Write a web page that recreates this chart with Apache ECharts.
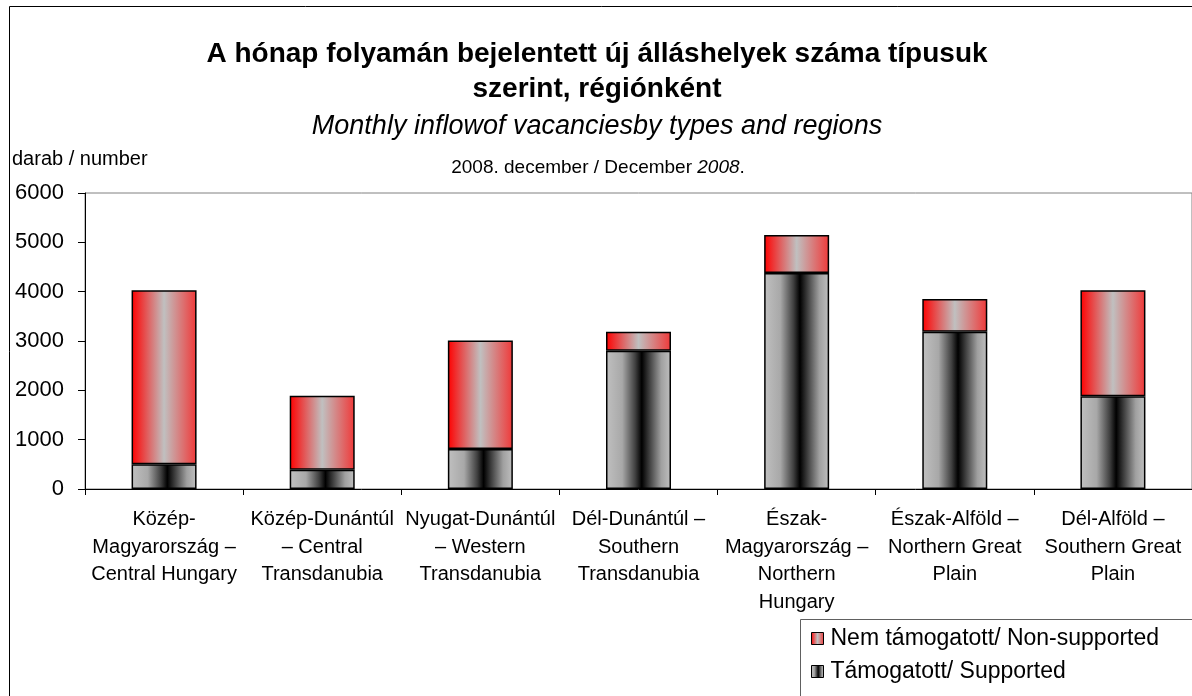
<!DOCTYPE html>
<html>
<head>
<meta charset="utf-8">
<title>Új álláshelyek régiónként</title>
<script src="https://cdn.jsdelivr.net/npm/echarts@6/dist/echarts.min.js"></script>
<style>
  html, body { margin: 0; padding: 0; background: #fff; }
  #main { width: 1192px; height: 696px; }
</style>
</head>
<body>
<div id="main"></div>
<script>
// régiók / regions
var regions = [
  'Közép-\nMagyarország –\nCentral Hungary',
  'Közép-Dunántúl\n– Central\nTransdanubia',
  'Nyugat-Dunántúl\n– Western\nTransdanubia',
  'Dél-Dunántúl –\nSouthern\nTransdanubia',
  'Észak-\nMagyarország –\nNorthern\nHungary',
  'Észak-Alföld –\nNorthern Great\nPlain',
  'Dél-Alföld –\nSouthern Great\nPlain'
]
// támogatott / supported
var supported = [500, 390, 810, 2800, 4380, 3190, 1880]
// nem támogatott / non-supported
var nonSupported = [3530, 1500, 2200, 390, 770, 660, 2150]
var yTicks = [0, 1000, 2000, 3000, 4000, 5000, 6000]

var FONT = '"Liberation Sans", Arial, sans-serif'

var redGrad = new echarts.graphic.LinearGradient(0, 0, 1, 0, [
  {offset: 0, color: '#ff0000'},
  {offset: 0.5, color: '#c0c0c0'},
  {offset: 1, color: '#f03838'}
])
var blackGrad = new echarts.graphic.LinearGradient(0, 0, 1, 0, [
  {offset: 0, color: '#c0c0c0'},
  {offset: 0.25, color: '#a8a8a8'},
  {offset: 0.45, color: '#404040'},
  {offset: 0.55, color: '#000000'},
  {offset: 0.7, color: '#505050'},
  {offset: 0.85, color: '#a0a0a0'},
  {offset: 1, color: '#c0c0c0'}
])

var chart = echarts.init(document.getElementById('main'))
var option = {
  backgroundColor: '#fff',
  animation: false,
  textStyle: {fontFamily: FONT, color: '#000'},
  graphic: [
    // külső keret
    {
      type: 'rect',
      shape: {x: 9.5, y: 6.5, width: 1200, height: 700},
      style: {fill: 'none', stroke: '#000', lineWidth: 1},
      silent: true
    },
    // jelmagyarázat keret
    {
      type: 'rect',
      shape: {x: 800.5, y: 619.5, width: 500, height: 200},
      style: {fill: '#fff', stroke: '#606060', lineWidth: 1},
      silent: true,
      z: -1
    },
    {
      type: 'text',
      x: 597,
      y: 72,
      style: {
        text: 'A hónap folyamán bejelentett új álláshelyek száma típusuk\nszerint, régiónként',
        align: 'center',
        verticalAlign: 'middle',
        fontFamily: FONT,
        fontSize: 28,
        fontWeight: 'bold',
        lineHeight: 35,
        fill: '#000'
      }
    },
    {
      type: 'text',
      x: 597,
      y: 126,
      style: {
        text: 'Monthly inflowof vacanciesby types and regions',
        align: 'center',
        verticalAlign: 'middle',
        fontFamily: FONT,
        fontSize: 27,
        fontStyle: 'italic',
        fill: '#000'
      }
    },
    {
      type: 'text',
      x: 598,
      y: 168,
      style: {
        text: '2008. december / December {i|2008}.',
        align: 'center',
        verticalAlign: 'middle',
        fontFamily: FONT,
        fontSize: 19,
        fill: '#000',
        rich: {i: {fontFamily: FONT, fontSize: 19, fontStyle: 'italic', fill: '#000'}}
      }
    },
    {
      type: 'text',
      x: 12,
      y: 159,
      style: {
        text: 'darab / number',
        align: 'left',
        verticalAlign: 'middle',
        fontFamily: FONT,
        fontSize: 20,
        fill: '#000'
      }
    }
  ],
  legend: {
    orient: 'vertical',
    left: 801,
    top: 619,
    data: ['Nem támogatott/ Non-supported', 'Támogatott/ Supported'],
    itemWidth: 12,
    itemHeight: 12,
    itemGap: 10,
    icon: 'rect',
    padding: [8, 10, 0, 10],
    itemStyle: {borderColor: '#000', borderWidth: 1},
    textStyle: {fontFamily: FONT, fontSize: 23, color: '#000', padding: [0, 0, 0, 2]}
  },
  grid: {
    left: 85,
    top: 193,
    width: 1111,
    height: 296,
    show: true,
    borderColor: '#808080',
    borderWidth: 1
  },
  xAxis: {
    type: 'category',
    data: regions,
    axisLine: {lineStyle: {color: '#000', width: 1}},
    axisTick: {show: true, length: 6, lineStyle: {color: '#000'}},
    axisLabel: {
      interval: 0,
      margin: 17,
      fontFamily: FONT,
      fontSize: 20,
      lineHeight: 27.5,
      color: '#000'
    }
  },
  yAxis: {
    type: 'value',
    min: yTicks[0],
    max: yTicks[yTicks.length - 1],
    interval: 1000,
    splitLine: {show: false},
    axisLine: {show: true, lineStyle: {color: '#000', width: 1}},
    axisTick: {show: true, length: 7, lineStyle: {color: '#000'}},
    axisLabel: {
      margin: 21,
      fontFamily: FONT,
      fontSize: 22,
      color: '#000',
      formatter: function (v) { return String(v) }
    }
  },
  series: [
    {
      name: 'Támogatott/ Supported',
      type: 'bar',
      stack: 'total',
      barWidth: 65,
      data: supported,
      itemStyle: {color: blackGrad, borderColor: '#000', borderWidth: 1.5}
    },
    {
      name: 'Nem támogatott/ Non-supported',
      type: 'bar',
      stack: 'total',
      barWidth: 65,
      data: nonSupported,
      itemStyle: {color: redGrad, borderColor: '#000', borderWidth: 1.5}
    }
  ]
}
chart.setOption(option)
</script>
</body>
</html>
